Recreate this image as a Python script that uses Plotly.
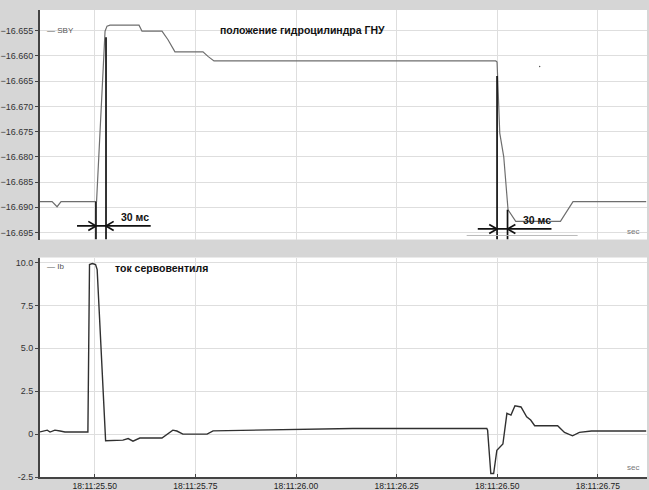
import plotly.graph_objects as go
from plotly.subplots import make_subplots

# ---- data (seconds after 18:11:00) ----
sby_t = [25.364, 25.394, 25.4064, 25.4163, 25.5045, 25.5256, 25.5305, 25.538, 25.610, 25.6174,
         25.6671, 25.682, 25.6993, 25.7689, 25.7813, 25.7962, 26.4963, 26.4995, 26.5062,
         26.5161, 26.5268, 26.5459, 26.6569, 26.6882, 26.870]
sby_v = [-16.6889, -16.6889, -16.6899, -16.6889, -16.6889, -16.6551, -16.6541, -16.6539, -16.6539,
         -16.6551, -16.6551, -16.6568, -16.6592, -16.6592, -16.6601, -16.6610, -16.6610, -16.6612,
         -16.6753, -16.6800, -16.6905, -16.6928, -16.6928, -16.6889, -16.6889]

ib_t = [25.364, 25.382, 25.389, 25.401, 25.414, 25.426, 25.483, 25.487, 25.494, 25.502, 25.506,
        25.527, 25.570, 25.583, 25.595, 25.612, 25.667, 25.694, 25.704, 25.719, 25.779, 25.794,
        26.141, 26.474, 26.476, 26.484, 26.491, 26.499, 26.514, 26.524, 26.534, 26.544, 26.559,
        26.573, 26.583, 26.593, 26.650, 26.667, 26.687, 26.704, 26.734, 26.870]
ib_v = [0.13, 0.23, 0.12, 0.23, 0.18, 0.12, 0.12, 9.88, 9.94, 9.88, 9.59,
        -0.39, -0.35, -0.26, -0.41, -0.23, -0.23, 0.23, 0.18, 0.0, 0.0, 0.19,
        0.33, 0.33, 0.23, -2.30, -2.30, -0.94, -0.58, 1.21, 1.11, 1.65, 1.58,
        1.01, 0.82, 0.49, 0.49, 0.10, -0.10, 0.10, 0.18, 0.18]

x_tickvals = [25.50, 25.75, 26.00, 26.25, 26.50, 26.75]
x_ticktext = ["18:11:25.50", "18:11:25.75", "18:11:26.00", "18:11:26.25", "18:11:26.50", "18:11:26.75"]
top_tickvals = [-16.655, -16.660, -16.665, -16.670, -16.675, -16.680, -16.685, -16.690, -16.695]
bot_tickvals = [10.0, 7.5, 5.0, 2.5, 0.0, -2.5]
bot_ticktext = ["10.0", "7.5", "5.0", "2.5", "0", "-2.5"]

title_top = "положение гидроцилиндра ГНУ"
title_bot = "ток сервовентиля"
label_ms = "30 мс"

FONT = "Liberation Sans, Arial, sans-serif"
GRID = "#dedede"
BG = "#d6d6d6"

fig = make_subplots(rows=2, cols=1, shared_xaxes=True, vertical_spacing=0.0)

fig.add_trace(go.Scatter(x=sby_t, y=sby_v, mode="lines", line=dict(color="#6e6e6e", width=1.2),
                         showlegend=False, hoverinfo="skip"), row=1, col=1)
fig.add_trace(go.Scatter(x=ib_t, y=ib_v, mode="lines", line=dict(color="#303030", width=1.4),
                         showlegend=False, hoverinfo="skip"), row=2, col=1)

xr = [25.364, 26.872]
common_x = dict(range=xr, tickvals=x_tickvals, showgrid=True, gridcolor=GRID, gridwidth=1,
                zeroline=False, automargin=False, tickfont=dict(family=FONT, size=8.5, color="#222"))
common_y = dict(showgrid=True, gridcolor=GRID, zeroline=False, automargin=False,
                showline=True, linecolor="#444", linewidth=2, ticks="outside", ticklen=3,
                tickcolor="#444", tickfont=dict(family=FONT, size=9, color="#333"))
fig.update_layout(
    width=649, height=490,
    margin=dict(l=40, r=2, t=10, b=13),
    paper_bgcolor=BG, plot_bgcolor="white",
    font=dict(family=FONT),
    xaxis=dict(common_x, domain=[0, 1], showticklabels=False, ticks="", anchor="y"),
    xaxis2=dict(common_x, domain=[0, 1], ticktext=x_ticktext, ticks="inside", ticklen=3,
                tickcolor="#444", showline=True, linecolor="#444", linewidth=2, anchor="y2"),
    yaxis=dict(common_y, domain=[0.5085, 1.0], range=[-16.6964, -16.6509],
               tickvals=top_tickvals, tickformat=".3f"),
    yaxis2=dict(common_y, domain=[0.0, 0.470], range=[-2.5, 10.29], tickvals=bot_tickvals,
                ticktext=bot_ticktext),
)

# titles / legends / units
fig.add_annotation(text="<b>" + title_top + "</b>", xref="x", yref="y", x=26.015, y=-16.6549,
                   showarrow=False, font=dict(family=FONT, size=10.5, color="#111"),
                   xanchor="center")
fig.add_annotation(text="<b>" + title_bot + "</b>", xref="x2", yref="y2", x=25.667, y=9.7,
                   showarrow=False, font=dict(family=FONT, size=10.5, color="#111"),
                   xanchor="center")
fig.add_annotation(text="— SBY", xref="paper", yref="y", x=0.008, y=-16.655, showarrow=False,
                   font=dict(family=FONT, size=8, color="#555"), xanchor="left")
fig.add_annotation(text="— Ib", xref="paper", yref="y2", x=0.008, y=9.75, showarrow=False,
                   font=dict(family=FONT, size=8, color="#555"), xanchor="left")
fig.add_annotation(text="sec", xref="paper", yref="y", x=0.99, y=-16.6948, showarrow=False,
                   font=dict(family=FONT, size=8, color="#777"), xanchor="right")
fig.add_annotation(text="sec", xref="paper", yref="y2", x=0.99, y=-1.95, showarrow=False,
                   font=dict(family=FONT, size=8, color="#777"), xanchor="right")

# "30 мс" measurement markers
blk = dict(color="#111", width=1.7)
def seg(x0, y0, x1, y1, line=blk):
    fig.add_shape(type="line", xref="x", yref="y", x0=x0, y0=y0, x1=x1, y1=y1, line=line)

# left marker
seg(25.503, -16.6889, 25.503, -16.6964)
seg(25.528, -16.6563, 25.528, -16.6964)
seg(25.456, -16.6937, 25.639, -16.6937)
seg(25.503, -16.6937, 25.484, -16.6928); seg(25.503, -16.6937, 25.484, -16.6946)
seg(25.528, -16.6937, 25.547, -16.6928); seg(25.528, -16.6937, 25.547, -16.6946)
fig.add_annotation(text="<b>" + label_ms + "</b>", xref="x", yref="y", x=25.600, y=-16.6919,
                   showarrow=False, font=dict(family=FONT, size=10.5, color="#111"))

# right marker
seg(26.4995, -16.6640, 26.4995, -16.6964)
seg(26.5255, -16.6905, 26.5255, -16.6964)
seg(26.4516, -16.6943, 26.6347, -16.6943)
seg(26.4995, -16.6943, 26.480, -16.6934); seg(26.4995, -16.6943, 26.480, -16.6952)
seg(26.5255, -16.6943, 26.545, -16.6934); seg(26.5255, -16.6943, 26.545, -16.6952)
seg(26.424, -16.6956, 26.6997, -16.6956, line=dict(color="#bbbbbb", width=1))
fig.add_annotation(text="<b>" + label_ms + "</b>", xref="x", yref="y", x=26.598, y=-16.6926,
                   showarrow=False, font=dict(family=FONT, size=10.5, color="#111"))
fig.add_shape(type="circle", xref="x", yref="y", x0=26.604, x1=26.607, y0=-16.66225, y1=-16.66195,
              fillcolor="#333", line=dict(width=0))

fig.write_html("out.html",
               config={"displayModeBar": False},
               post_script="document.body.style.margin='0';document.body.style.padding='0';"
                           "document.body.style.background='#d6d6d6';"
                           "document.body.style.overflow='hidden';")
